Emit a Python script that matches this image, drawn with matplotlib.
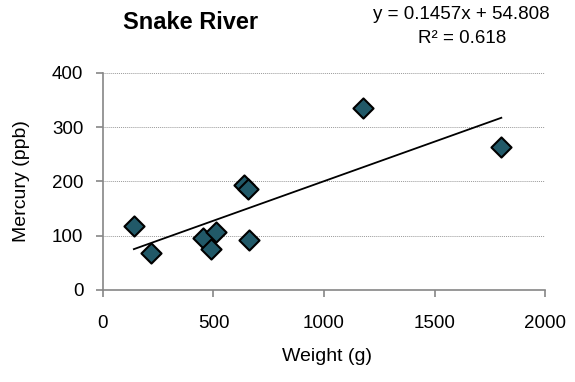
import matplotlib.pyplot as plt
import numpy as np

plt.rcParams['font.family'] = ['Liberation Sans', 'DejaVu Sans']

# fish weight (g) and mercury (ppb)
weight = [140, 217, 454, 487, 511, 638, 657, 659, 1178, 1802]
mercury = [118, 69, 95, 76, 107, 193, 186, 92, 336, 263]

slope = 0.1457
intercept = 54.808
r2 = 0.618

xticks = [0, 500, 1000, 1500, 2000]
yticks = [0, 100, 200, 300, 400]

fig = plt.figure(figsize=(5.75, 3.82), dpi=100)
ax = fig.add_axes([0.179, 0.241, 0.769, 0.568])

ax.grid(axis='y', color='#9a9a9a', linestyle=(0, (1, 1)), linewidth=0.7)
ax.set_axisbelow(True)

xs = np.array([min(weight), max(weight)])
ax.plot(xs, slope * xs + intercept, color='black', linewidth=1.3, zorder=2)
ax.scatter(weight, mercury, marker='D', s=105, facecolor='#215968',
           edgecolor='black', linewidth=1.5, zorder=3)

ax.set_xlim(0, 2000)
ax.set_ylim(0, 400)
ax.set_xticks(xticks)
ax.set_yticks(yticks)
ax.tick_params(labelsize=13.5, color='#868686', length=5, width=1.2)
ax.tick_params(axis='x', pad=13)
ax.tick_params(axis='y', pad=9)
for side in ['top', 'right']:
    ax.spines[side].set_visible(False)
for side in ['left', 'bottom']:
    ax.spines[side].set_color('#868686')
    ax.spines[side].set_linewidth(1.2)

fig.text(0.568, 0.066, 'Weight (g)', fontsize=14, ha='center', va='center')
fig.text(0.038, 0.526, 'Mercury (ppb)', fontsize=14, rotation=90,
         ha='center', va='center')

fig.text(0.332, 0.94, 'Snake River', fontsize=17, fontweight='bold',
         ha='center', va='center')
fig.text(0.803, 0.962, f'y = {slope}x + {intercept}', fontsize=13.5,
         ha='center', va='center')
fig.text(0.803, 0.9, f'R² = {r2}', fontsize=13.5, ha='center', va='center')

fig.savefig('out.png', dpi=100)
